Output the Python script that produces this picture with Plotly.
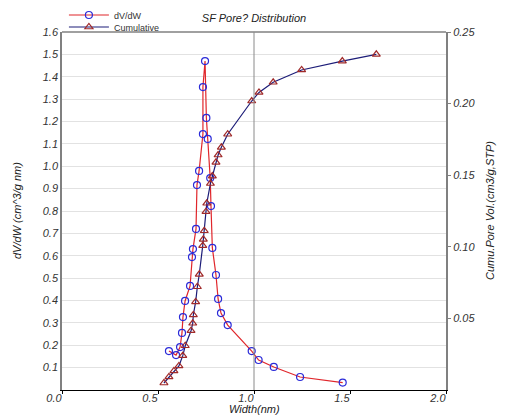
import plotly.graph_objects as go

# dV/dW distribution (left axis)
width_dv = [0.557, 0.594, 0.615, 0.625, 0.630, 0.641, 0.667, 0.677, 0.682, 0.698,
            0.703, 0.714, 0.734, 0.734, 0.745, 0.752, 0.759, 0.772, 0.776, 0.783,
            0.802, 0.813, 0.828, 0.863, 0.988, 1.024, 1.103, 1.240, 1.462]
dvdw = [0.174, 0.156, 0.192, 0.255, 0.326, 0.398, 0.465, 0.594, 0.630, 0.720,
        0.916, 0.979, 1.144, 1.354, 1.470, 1.216, 1.122, 0.947, 0.822, 0.635,
        0.514, 0.407, 0.344, 0.290, 0.174, 0.134, 0.103, 0.058, 0.033]

# cumulative pore volume (right axis)
width_cum = [0.531, 0.557, 0.583, 0.609, 0.629, 0.642, 0.672, 0.681, 0.684, 0.696,
             0.705, 0.715, 0.733, 0.736, 0.741, 0.750, 0.754, 0.773, 0.783, 0.802,
             0.813, 0.830, 0.863, 0.988, 1.026, 1.100, 1.248, 1.460, 1.637]
cumu = [0.0049, 0.0091, 0.0133, 0.0168, 0.0240, 0.0309, 0.0414, 0.0466, 0.0524, 0.0615,
        0.0721, 0.0808, 0.1008, 0.1052, 0.1112, 0.1245, 0.1304, 0.1442, 0.1494, 0.1590,
        0.1641, 0.1695, 0.1786, 0.2018, 0.2078, 0.2149, 0.2235, 0.2297, 0.2344]

left_ticks = [round(0.1 * i, 1) for i in range(1, 17)]
right_ticks = [0.05, 0.10, 0.15, 0.20, 0.25]
x_ticks = [0.0, 0.5, 1.0, 1.5, 2.0]

FONT = "Liberation Sans, Arial, sans-serif"
tick_font = dict(family=FONT, size=11, color="#333", style="italic")
title_font = dict(family=FONT, size=11, color="#222", style="italic")
legend_font = dict(family=FONT, size=9, color="#333")

# the page body adds an 8px margin, so the figure is 8px smaller
# and the plot margins are trimmed to keep the plot area in place
W, H = 499, 408
PW, PH = 384, 358

fig = go.Figure()

fig.add_trace(go.Scatter(x=width_dv, y=dvdw, name="dV/dW", mode="lines+markers",
                         line=dict(color="#e0262b", width=1.2),
                         marker=dict(symbol="circle-open", size=7, color="#2a2ad8",
                                     line=dict(width=1.2)),
                         legend="legend"))

fig.add_trace(go.Scatter(x=width_cum, y=cumu, name="Cumulative", mode="lines+markers",
                         yaxis="y2",
                         line=dict(color="#1c1c78", width=1.2),
                         marker=dict(symbol="triangle-up-open", size=7, color="#a02a2a",
                                     line=dict(width=1.2)),
                         legend="legend2"))

fig.update_layout(
    width=W, height=H,
    margin=dict(l=54, r=61, t=24, b=26, autoexpand=False),
    plot_bgcolor="white", paper_bgcolor="white",
    font=dict(family=FONT, size=11, color="#333"),
    title=dict(text="SF Pore? Distribution", x=0.5, xref="paper", xanchor="center",
               y=1 - 10 / H, yanchor="middle", font=title_font),
    xaxis=dict(range=[0, 2], tickvals=x_ticks, ticktext=["%.1f" % v for v in x_ticks],
               showgrid=False, showline=True, linecolor="black", linewidth=1,
               ticks="outside", ticklen=3, tickcolor="black",
               ticklabelshift=-8, ticklabelstandoff=-5, tickfont=tick_font,
               zeroline=False),
    yaxis=dict(range=[0, 1.6], tickvals=left_ticks, ticktext=["%.1f" % v for v in left_ticks],
               showgrid=True, gridcolor="#e2e2e2", gridwidth=1,
               showline=True, linecolor="#808080", linewidth=1.5,
               ticks="", tickfont=tick_font, zeroline=False),
    yaxis2=dict(range=[0, 0.25], overlaying="y", side="right",
                tickvals=right_ticks, ticktext=["%.2f" % v for v in right_ticks],
                showgrid=False, showline=True, linecolor="#808080", linewidth=2,
                ticks="outside", ticklen=3, tickcolor="#808080",
                tickfont=tick_font, zeroline=False),
    showlegend=True,
    legend=dict(x=0.005, y=1 + 17 / PH, xanchor="left", yanchor="middle",
                itemwidth=40, bgcolor="rgba(0,0,0,0)", font=legend_font),
    legend2=dict(x=0.005, y=1 + 5 / PH, xanchor="left", yanchor="middle",
                 itemwidth=40, bgcolor="rgba(0,0,0,0)", font=legend_font),
    shapes=[dict(type="line", xref="paper", yref="paper", x0=0, x1=1, y0=1, y1=1,
                 line=dict(color="#808080", width=1.5)),
            dict(type="line", xref="x", yref="paper", x0=1.0, x1=1.0, y0=0, y1=1,
                 line=dict(color="#8a8a8a", width=1))],
    annotations=[
        dict(text="Width(nm)", xref="paper", yref="paper", x=0.5, y=-19 / PH,
             xanchor="center", yanchor="middle", showarrow=False, font=title_font),
        dict(text="dV/dW (cm^3/g nm)", xref="paper", yref="paper", x=-45 / PW, y=0.5,
             xanchor="center", yanchor="middle", textangle=-90, showarrow=False,
             font=title_font),
        dict(text="Cumu.Pore Vol.(cm3/g,STP)", xref="paper", yref="paper",
             x=1 + 44 / PW, y=0.5, xanchor="center", yanchor="middle", textangle=-90,
             showarrow=False, font=title_font),
    ],
)

fig.write_html("out.html")
